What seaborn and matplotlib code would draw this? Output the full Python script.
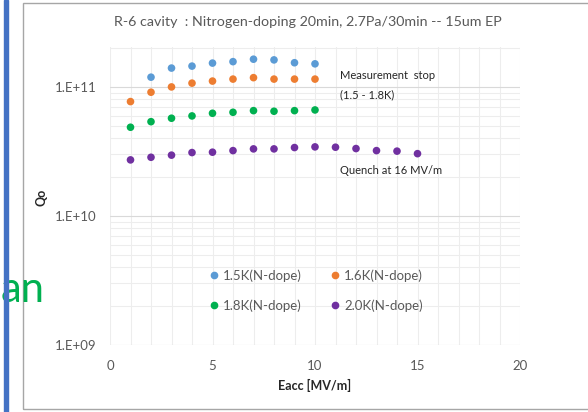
import numpy as np
import pandas as pd
import matplotlib.pyplot as plt
import seaborn as sns
from matplotlib.lines import Line2D
from matplotlib.patches import Rectangle
from matplotlib.ticker import MultipleLocator, LogLocator, NullFormatter

# data (Eacc in MV/m, Q0)
eacc_15k = [2, 3, 4, 5, 6, 7, 8, 9, 10]
q0_15k = [1.19e11, 1.40e11, 1.45e11, 1.53e11, 1.57e11, 1.64e11, 1.62e11, 1.54e11, 1.51e11]
eacc_16k = [1, 2, 3, 4, 5, 6, 7, 8, 9, 10]
q0_16k = [7.7e10, 9.1e10, 1.00e11, 1.07e11, 1.11e11, 1.15e11, 1.18e11, 1.15e11, 1.15e11, 1.15e11]
eacc_18k = [1, 2, 3, 4, 5, 6, 7, 8, 9, 10]
q0_18k = [4.87e10, 5.38e10, 5.72e10, 5.96e10, 6.25e10, 6.36e10, 6.55e10, 6.48e10, 6.55e10, 6.63e10]
eacc_20k = [1, 2, 3, 4, 5, 6, 7, 8, 9, 10, 11, 12, 13, 14, 15]
q0_20k = [2.72e10, 2.85e10, 2.96e10, 3.10e10, 3.12e10, 3.21e10, 3.31e10, 3.31e10, 3.39e10,
          3.43e10, 3.41e10, 3.33e10, 3.21e10, 3.18e10, 3.04e10]

labels = ["1.5K(N-dope)", "1.6K(N-dope)", "1.8K(N-dope)", "2.0K(N-dope)"]
colors = ["#5B9BD5", "#ED7D31", "#00B050", "#7030A0"]
ytick_vals = [1e9, 1e10, 1e11]
ytick_labels = ["1.E+09", "1.E+10", "1.E+11"]

df = pd.concat([
    pd.DataFrame({"Eacc": eacc_15k, "Q0": q0_15k, "series": labels[0]}),
    pd.DataFrame({"Eacc": eacc_16k, "Q0": q0_16k, "series": labels[1]}),
    pd.DataFrame({"Eacc": eacc_18k, "Q0": q0_18k, "series": labels[2]}),
    pd.DataFrame({"Eacc": eacc_20k, "Q0": q0_20k, "series": labels[3]}),
])

sns.set_style("white")
plt.rcParams["font.family"] = ["Lato", "DejaVu Sans"]

fig = plt.figure(figsize=(5.88, 4.12), dpi=100)
ax = fig.add_axes([110 / 588, 67 / 412, 410 / 588, 298.3 / 412])

sns.scatterplot(data=df, x="Eacc", y="Q0", hue="series", palette=colors,
                s=30, edgecolor="none", legend=False, ax=ax, zorder=3)

ax.set_yscale("log")
ax.set_xlim(0, 20)
ax.set_ylim(1e9, 2.05e11)
ax.xaxis.set_major_locator(MultipleLocator(5))
ax.xaxis.set_minor_locator(MultipleLocator(1))
ax.set_yticks(ytick_vals, ytick_labels)
ax.yaxis.set_minor_locator(LogLocator(base=10, subs=np.arange(2, 10)))
ax.yaxis.set_minor_formatter(NullFormatter())
ax.grid(which="minor", color="#EDEDED", lw=0.8)
ax.grid(which="major", axis="x", color="#EDEDED", lw=0.8)
ax.grid(which="major", axis="y", color="#D9D9D9", lw=0.8)
ax.set_axisbelow(True)
for sp in ax.spines.values():
    sp.set_visible(False)
ax.tick_params(which="both", length=0, labelsize=9.5, labelcolor="#595959")
ax.tick_params(axis="y", pad=10)
ax.tick_params(axis="x", pad=11)

ax.set_xlabel("Eacc [MV/m]", fontsize=9, fontweight="bold", labelpad=5)
ax.set_ylabel("")
fig.text(42 / 588, 1 - 197 / 412, "Qo", rotation=90, fontsize=9,
         fontweight="bold", ha="center", va="center")

fig.text(308 / 588, 1 - 22.5 / 412,
         "R-6 cavity  : Nitrogen-doping 20min, 2.7Pa/30min -- 15um EP",
         fontsize=10.3, color="#595959", ha="center", va="center")

ax.text(11.2, 1.22e11, "Measurement  stop", fontsize=8, va="center")
ax.text(11.2, 8.7e10, "(1.5 - 1.8K)", fontsize=8, va="center")
ax.text(11.2, 2.24e10, "Quench at 16 MV/m", fontsize=8, va="center")

# legend fills column by column, so order it to read row by row
order = [0, 2, 1, 3]
handles = [Line2D([], [], marker="o", ls="", color=colors[i], markersize=4.5) for i in order]
ax.legend(handles, [labels[i] for i in order], ncol=2, loc="center",
          bbox_to_anchor=(0.5, 0.183), frameon=False, fontsize=9.5,
          labelcolor="#595959", handletextpad=0.2, columnspacing=2.0,
          labelspacing=1.3, handlelength=1.0)

# surrounding frame, slide bar and stray text from the screenshot
fig.patches.append(Rectangle((22.5 / 588, 3 / 412), 0.99, 406 / 412,
                             transform=fig.transFigure, fill=False,
                             edgecolor="#A6A6A6", lw=1))
fig.patches.append(Rectangle((3.5 / 588, 0), 4 / 588, 1, transform=fig.transFigure,
                             color="#4472C4", zorder=5))
fig.text(45 / 588, 1 - 302 / 412, "an", fontsize=30, color="#00B050",
         ha="right", va="baseline")

fig.savefig("out.png", dpi=100)
